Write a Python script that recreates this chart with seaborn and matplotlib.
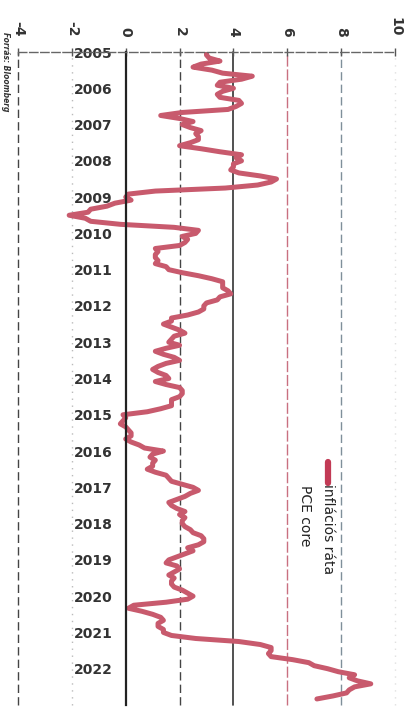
import numpy as np
import pandas as pd
import matplotlib
matplotlib.use("Agg")
import matplotlib.pyplot as plt
import seaborn as sns
from matplotlib.lines import Line2D

# ---- data (US CPI YoY, %, monthly, Jan 2005 - Nov 2022) ----
start = "2005-01-01"
inflation = [
    3.0, 3.0, 3.1, 3.5, 2.8, 2.5, 3.2, 3.6, 4.7, 4.3, 3.5, 3.4,   # 2005
    4.0, 3.6, 3.4, 3.5, 4.2, 4.3, 4.1, 3.8, 2.1, 1.3, 2.0, 2.5,   # 2006
    2.1, 2.4, 2.8, 2.6, 2.7, 2.7, 2.4, 2.0, 2.8, 3.5, 4.3, 4.1,   # 2007
    4.3, 4.0, 4.0, 3.9, 4.2, 5.0, 5.6, 5.4, 4.9, 3.7, 1.1, 0.1,   # 2008
    0.0, 0.2, -0.4, -0.7, -1.3, -1.4, -2.1, -1.5, -1.3, -0.2, 1.8, 2.7,  # 2009
    2.6, 2.1, 2.3, 2.2, 2.0, 1.1, 1.2, 1.1, 1.1, 1.2, 1.1, 1.5,   # 2010
    1.6, 2.1, 2.7, 3.2, 3.6, 3.6, 3.6, 3.8, 3.9, 3.5, 3.4, 3.0,   # 2011
    2.9, 2.9, 2.7, 2.3, 1.7, 1.7, 1.4, 1.7, 2.0, 2.2, 1.8, 1.7,   # 2012
    1.6, 2.0, 1.5, 1.1, 1.4, 1.8, 2.0, 1.5, 1.2, 1.0, 1.2, 1.5,   # 2013
    1.6, 1.1, 1.5, 2.0, 2.1, 2.1, 2.0, 1.7, 1.7, 1.7, 1.3, 0.8,   # 2014
    -0.1, 0.0, -0.1, -0.2, 0.0, 0.1, 0.2, 0.2, 0.0, 0.2, 0.5, 0.7,  # 2015
    1.4, 1.0, 0.9, 1.1, 1.0, 1.0, 0.8, 1.1, 1.5, 1.6, 1.7, 2.1,   # 2016
    2.5, 2.7, 2.4, 2.2, 1.9, 1.6, 1.7, 1.9, 2.2, 2.0, 2.2, 2.1,   # 2017
    2.1, 2.2, 2.4, 2.5, 2.8, 2.9, 2.9, 2.7, 2.3, 2.5, 2.2, 1.9,   # 2018
    1.6, 1.5, 1.9, 2.0, 1.8, 1.6, 1.8, 1.7, 1.7, 1.8, 2.1, 2.3,   # 2019
    2.5, 2.3, 1.5, 0.3, 0.1, 0.6, 1.0, 1.3, 1.4, 1.2, 1.2, 1.4,   # 2020
    1.4, 1.7, 2.6, 4.2, 5.0, 5.4, 5.4, 5.3, 5.4, 6.2, 6.8, 7.0,   # 2021
    7.5, 7.9, 8.5, 8.3, 8.6, 9.1, 8.5, 8.3, 8.2, 7.7, 7.1,        # 2022
]
value_ticks = [-4, -2, 0, 2, 4, 6, 8, 10]
year_ticks = list(range(2005, 2023))
legend_labels = ["inflációs ráta", "PCE core"]
source_text = "Forrás: Bloomberg"

dates = pd.date_range(start, periods=len(inflation), freq="MS")
df = pd.DataFrame({
    "year": dates.year + (dates.month - 1) / 12.0,
    "value": inflation,
})

# ---- figure ----
sns.set_style("white")
plt.rcParams["font.family"] = ["DejaVu Sans"]
fig = plt.figure(figsize=(4.11, 7.08), dpi=100)
W, H = 411, 708
ax = fig.add_axes([18 / W, 3 / H, 377 / W, 653 / H])

red = "#c85a6d"
sns.lineplot(data=df, x="value", y="year", orient="y", sort=False,
             estimator=None, color=red, lw=3.6, ax=ax)

ax.set_xlim(-4, 10)
ax.set_ylim(2023.0, 2005.0)
ax.set_xlabel("")
ax.set_ylabel("")

# value axis on top, labels rotated
ax.xaxis.tick_top()
ax.set_xticks(value_ticks)
ax.set_xticklabels([str(v) for v in value_ticks], rotation=-90,
                   fontsize=10, fontweight="bold", color="#333333")
ax.tick_params(axis="x", direction="inout", length=6, width=1,
               color="#555555", pad=8)

# date axis along the zero line
ax.spines["left"].set_position(("data", 0))
ax.spines["left"].set_color("#222222")
ax.spines["left"].set_linewidth(1.6)
ax.set_yticks(year_ticks)
ax.set_yticklabels([str(y) for y in year_ticks], fontsize=10,
                   fontweight="bold", color="#333333")
ax.tick_params(axis="y", direction="inout", length=7, width=1,
               color="#333333", pad=6)
ax.spines["top"].set_color("#666666")
ax.spines["top"].set_linewidth(1.0)
ax.spines["top"].set_linestyle((0, (6, 2)))
ax.spines["right"].set_visible(False)
ax.spines["bottom"].set_visible(False)

# gridlines at value ticks (scan-like mixed styles)
grid_styles = {
    -4: dict(color="#444444", ls=(0, (6, 3)), lw=1.0),
    -2: dict(color="#bbbbbb", ls=(0, (1, 4)), lw=1.0),
    2: dict(color="#444444", ls=(0, (6, 3)), lw=1.0),
    4: dict(color="#333333", ls="-", lw=1.2),
    6: dict(color="#c97080", ls=(0, (8, 2)), lw=1.0),
    8: dict(color="#7f8f9a", ls=(0, (6, 3)), lw=1.0),
    10: dict(color="#e0e0e0", ls=(0, (1, 4)), lw=1.0),
}
for v in value_ticks:
    if v in grid_styles:
        s = grid_styles[v]
        ax.axvline(v, color=s["color"], ls=s["ls"], lw=s["lw"], zorder=0,
                   clip_on=False)

# legend (rotated like the chart)
def ax_y(pix):
    return 1 - (pix - 52) / 653.0

ax.add_line(Line2D([(328 - 18) / 377.0] * 2, [ax_y(462), ax_y(483)],
                   transform=ax.transAxes, color="#c23a55", lw=4.5))
ax.text((328 - 18) / 377.0, ax_y(484), legend_labels[0], rotation=-90,
        transform=ax.transAxes, ha="center", va="top", fontsize=10,
        color="#222222")
ax.text((305 - 18) / 377.0, ax_y(485), legend_labels[1], rotation=-90,
        transform=ax.transAxes, ha="center", va="top", fontsize=10,
        color="#222222")

fig.text(5 / W, 1 - 32 / H, source_text, rotation=-90, ha="center",
         va="top", fontsize=5.5, style="italic", fontweight="bold",
         color="#333333")

fig.savefig("out.png", dpi=100)
